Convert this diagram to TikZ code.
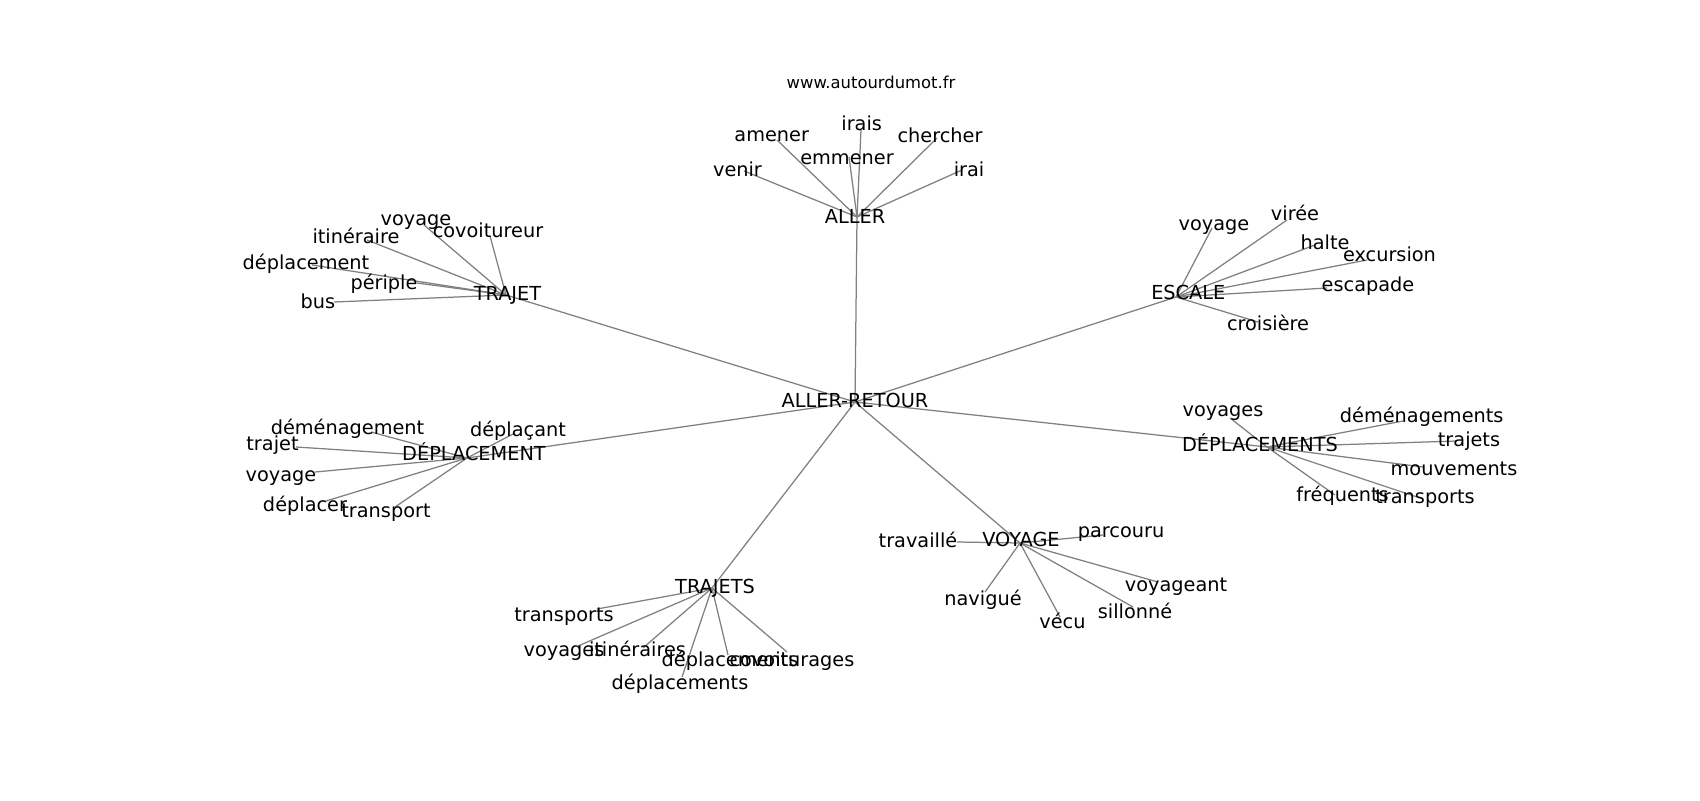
\documentclass[tikz,border=0pt]{standalone}
\usepackage{fontspec}
\setmainfont{DejaVu Sans}
\begin{document}
\begin{tikzpicture}[x=0.72pt,y=-0.72pt,
  edge/.style={draw=black!50, line width=0.9pt},
  lbl/.style={anchor=base, inner sep=0pt, font=\fontsize{13.9}{16}\selectfont},
  ttl/.style={anchor=base, inner sep=0pt, font=\fontsize{11.8}{14}\selectfont}]
\useasboundingbox[fill=white] (0,0) rectangle (1700,800);

% ---- node positions (edge end points)
\coordinate (root) at (855,402);
\coordinate (aller) at (857,217);
\coordinate (venir) at (744,171);
\coordinate (amener) at (777,140);
\coordinate (irais) at (861,130);
\coordinate (emmener) at (849,157);
\coordinate (chercher) at (937,138);
\coordinate (irai) at (962,170);

\coordinate (trajet) at (506,295);
\coordinate (tjvoyage) at (424,225);
\coordinate (itineraire) at (367,240);
\coordinate (covoitureur) at (490,236);
\coordinate (tjdeplacement) at (312,265);
\coordinate (periple) at (417,283);
\coordinate (bus) at (334,302);

\coordinate (escale) at (1176,297);
\coordinate (esvoyage) at (1212,228);
\coordinate (viree) at (1287,220);
\coordinate (halte) at (1315,245);
\coordinate (excursion) at (1367,260);
\coordinate (escapade) at (1327,288);
\coordinate (croisiere) at (1258,322);

\coordinate (deplacement) at (467,458);
\coordinate (demenagement) at (371,432);
\coordinate (deplacant) at (515,433);
\coordinate (dptrajet) at (296,447);
\coordinate (dpvoyage) at (315,472);
\coordinate (deplacer) at (326,501);
\coordinate (transport) at (395,507);

\coordinate (deplacements) at (1267,447);
\coordinate (dsvoyages) at (1230,418);
\coordinate (demenagements) at (1403,421);
\coordinate (trajets) at (1457,441);
\coordinate (mouvements) at (1423,467);
\coordinate (frequents) at (1335,495);
\coordinate (dstransports) at (1417,497);

\coordinate (trajetsN) at (712,588);
\coordinate (tstransports) at (597,609);
\coordinate (tsvoyages) at (578,646);
\coordinate (itineraires) at (643,648);
\coordinate (tsdeplacementsA) at (728,655);
\coordinate (covoiturages) at (787,652);
\coordinate (tsdeplacementsB) at (682,677);

\coordinate (voyage) at (1020,543);
\coordinate (travaille) at (957,542);
\coordinate (parcouru) at (1103,535);
\coordinate (voyageant) at (1158,582);
\coordinate (sillonne) at (1133,607);
\coordinate (navigue) at (985,592);
\coordinate (vecu) at (1060,617);

% ---- edges
\draw[edge] (root) -- (aller);
\draw[edge] (root) -- (trajet);
\draw[edge] (root) -- (escale);
\draw[edge] (root) -- (deplacement);
\draw[edge] (root) -- (deplacements);
\draw[edge] (root) -- (trajetsN);
\draw[edge] (root) -- (voyage);

\foreach \n in {venir,amener,irais,emmener,chercher,irai} \draw[edge] (aller) -- (\n);
\foreach \n in {tjvoyage,itineraire,covoitureur,tjdeplacement,periple,bus} \draw[edge] (trajet) -- (\n);
\foreach \n in {esvoyage,viree,halte,excursion,escapade,croisiere} \draw[edge] (escale) -- (\n);
\foreach \n in {demenagement,deplacant,dptrajet,dpvoyage,deplacer,transport} \draw[edge] (deplacement) -- (\n);
\foreach \n in {dsvoyages,demenagements,trajets,mouvements,frequents,dstransports} \draw[edge] (deplacements) -- (\n);
\foreach \n in {tstransports,tsvoyages,itineraires,tsdeplacementsA,covoiturages,tsdeplacementsB} \draw[edge] (trajetsN) -- (\n);
\foreach \n in {travaille,parcouru,voyageant,sillonne,navigue,vecu} \draw[edge] (voyage) -- (\n);

% ---- labels
\node[ttl] (title) at (871,88.3) {www.autourdumot.fr};

\node[lbl] (t-root) at (855,407.3) {ALLER-RETOUR};
\node[lbl] (t-aller) at (855,223.3) {ALLER};
\node[lbl] (t-venir) at (737.5,176.7) {venir};
\node[lbl] (t-amener) at (771.7,141.7) {amener};
\node[lbl] (t-irais) at (861.7,130) {irais};
\node[lbl] (t-emmener) at (847,164) {emmener};
\node[lbl] (t-chercher) at (940,142.7) {chercher};
\node[lbl] (t-irai) at (969,176) {irai};

\node[lbl] (t-trajet) at (507.5,300) {TRAJET};
\node[lbl] (t-tjvoyage) at (416,225) {voyage};
\node[lbl] (t-itineraire) at (356,243.3) {itinéraire};
\node[lbl] (t-covoitureur) at (488,237.3) {covoitureur};
\node[lbl] (t-tjdeplacement) at (306,269) {déplacement};
\node[lbl] (t-periple) at (384,289) {périple};
\node[lbl] (t-bus) at (318,308.3) {bus};

\node[lbl] (t-escale) at (1188.3,299.3) {ESCALE};
\node[lbl] (t-esvoyage) at (1214,230) {voyage};
\node[lbl] (t-viree) at (1295,220) {virée};
\node[lbl] (t-halte) at (1325,249.3) {halte};
\node[lbl] (t-excursion) at (1389.5,261) {excursion};
\node[lbl] (t-escapade) at (1368,291.7) {escapade};
\node[lbl] (t-croisiere) at (1268,330) {croisière};

\node[lbl] (t-deplacement) at (474,460.7) {DÉPLACEMENT};
\node[lbl] (t-demenagement) at (347.5,434) {déménagement};
\node[lbl] (t-deplacant) at (518,436.7) {déplaçant};
\node[lbl] (t-dptrajet) at (272.5,450) {trajet};
\node[lbl] (t-dpvoyage) at (281,481.7) {voyage};
\node[lbl] (t-deplacer) at (305,511) {déplacer};
\node[lbl] (t-transport) at (386,517) {transport};

\node[lbl] (t-deplacements) at (1260,451) {DÉPLACEMENTS};
\node[lbl] (t-dsvoyages) at (1223,416.7) {voyages};
\node[lbl] (t-demenagements) at (1421.7,422.3) {déménagements};
\node[lbl] (t-trajets) at (1469,446.7) {trajets};
\node[lbl] (t-mouvements) at (1454,475) {mouvements};
\node[lbl] (t-frequents) at (1342.5,501.7) {fréquents};
\node[lbl] (t-dstransports) at (1425,503.3) {transports};

\node[lbl] (t-trajetsN) at (715,593.3) {TRAJETS};
\node[lbl] (t-tstransports) at (564,621.7) {transports};
\node[lbl] (t-tsvoyages) at (564,656.7) {voyages};
\node[lbl] (t-itineraires) at (637.5,656.7) {itinéraires};
\node[lbl] (t-tsdeplacementsA) at (730,666) {déplacements};
\node[lbl] (t-covoiturages) at (792,666) {covoiturages};
\node[lbl] (t-tsdeplacementsB) at (680,689.3) {déplacements};

\node[lbl] (t-voyage) at (1021,546.7) {VOYAGE};
\node[lbl] (t-travaille) at (918,547.3) {travaillé};
\node[lbl] (t-parcouru) at (1121,537.7) {parcouru};
\node[lbl] (t-voyageant) at (1176,591.7) {voyageant};
\node[lbl] (t-sillonne) at (1135,618.3) {sillonné};
\node[lbl] (t-navigue) at (983,605) {navigué};
\node[lbl] (t-vecu) at (1062.5,628.3) {vécu};
\end{tikzpicture}
\end{document}
